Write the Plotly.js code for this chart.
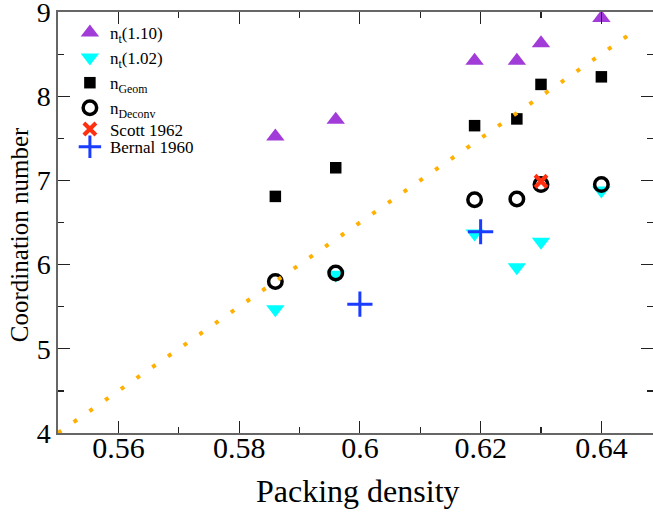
<!DOCTYPE html>
<html>
<head>
<meta charset="utf-8">
<script src="https://cdn.plot.ly/plotly-3.0.1.min.js"></script>
<style>body{margin:0;padding:0;background:#fff}#chart{width:653px;height:512px}</style>
</head>
<body>
<div id="chart"></div>
<script>
// Packing density of each sample
const density = [0.586, 0.596, 0.619, 0.626, 0.630, 0.640];
// Coordination numbers
const nt110 = [7.52, 7.72, 8.42, 8.42, 8.63, 8.93];
const nt102 = [5.47, 5.88, 6.37, 5.97, 6.27, 6.88];
const nGeom = [6.81, 7.15, 7.65, 7.73, 8.14, 8.23];
const nDeconv = [5.80, 5.90, 6.77, 6.78, 6.95, 6.95];
// Literature values
const scottX = [0.630];
const scottY = [6.99];
const bernalX = [0.600, 0.620];
const bernalY = [5.53, 6.39];
// Reference (dotted) line end points
const lineX = [0.550, 0.6462];
const lineY = [4.0, 8.81];

const serif = 'Liberation Serif';

const traces = [
  {x: density, y: nt110, name: 'n<sub>t</sub>(1.10)', mode: 'markers', type: 'scatter',
   marker: {symbol: 'triangle-up', size: 16, color: '#a23cd8'}},
  {x: density, y: nt102, name: 'n<sub>t</sub>(1.02)', mode: 'markers', type: 'scatter',
   marker: {symbol: 'triangle-down', size: 16, color: '#00ffff'}},
  {x: density, y: nGeom, name: 'n<sub>Geom</sub>', mode: 'markers', type: 'scatter',
   marker: {symbol: 'square', size: 11.5, color: '#000000'}},
  {x: density, y: nDeconv, name: 'n<sub>Deconv</sub>', mode: 'markers', type: 'scatter',
   marker: {symbol: 'circle-open', size: 13.5, color: '#000000', line: {width: 3.5, color: '#000000'}}},
  {x: scottX, y: scottY, name: 'Scott 1962', mode: 'markers', type: 'scatter', legend: 'legend2',
   marker: {symbol: 'x-thin-open', size: 12, color: '#ff3010', line: {width: 4, color: '#ff3010'}}},
  {x: bernalX, y: bernalY, name: 'Bernal 1960', mode: 'markers', type: 'scatter', legend: 'legend3',
   marker: {symbol: 'cross-thin-open', size: 18, color: '#1a3cff', line: {width: 3, color: '#1a3cff'}}},
  {x: lineX, y: lineY, mode: 'lines', type: 'scatter', showlegend: false, hoverinfo: 'skip',
   line: {color: '#ffb000', width: 4, dash: '4px,15.16px'}}
];

const axisCommon = {
  showline: true, linecolor: '#666666', linewidth: 1.6, mirror: 'ticks',
  ticks: 'inside', ticklen: 12, tickwidth: 1.2, tickcolor: '#222222',
  showgrid: false, zeroline: false, ticklabeloverflow: 'allow'
};

const legendCommon = {x: 0.02, xanchor: 'left', bgcolor: 'rgba(0,0,0,0)',
  font: {family: serif, size: 17, color: '#000'}, tracegroupgap: 0, itemwidth: 30};

const layout = {
  width: 653, height: 512,
  margin: {l: 58, r: 0, t: 12, b: 79, pad: 0},
  paper_bgcolor: '#ffffff', plot_bgcolor: '#ffffff',
  showlegend: true,
  font: {family: serif},
  legend: Object.assign({}, legendCommon, {y: 0.993, yanchor: 'top'}),
  legend2: Object.assign({}, legendCommon, {y: 0.721, yanchor: 'middle'}),
  legend3: Object.assign({}, legendCommon, {y: 0.679, yanchor: 'middle'}),
  xaxis: Object.assign({}, axisCommon, {
    range: [0.55, 0.64855], tick0: 0.56, dtick: 0.02, ticklabelstandoff: -13,
    tickfont: {family: serif, size: 30, color: '#000'},
    minor: {dtick: 0.01, ticks: 'inside', ticklen: 6, tickcolor: '#222222', tickwidth: 1.2}
  }),
  yaxis: Object.assign({}, axisCommon, {
    range: [4, 9], tick0: 4, dtick: 1,
    tickfont: {family: serif, size: 28, color: '#000'},
    minor: {dtick: 0.5, ticks: 'inside', ticklen: 6, tickcolor: '#222222', tickwidth: 1.2}
  }),
  annotations: [
    {text: 'Packing density', xref: 'paper', yref: 'paper', x: 0.504, y: -0.138,
     xanchor: 'center', yanchor: 'middle', showarrow: false,
     font: {family: serif, size: 32, color: '#000'}},
    {text: 'Coordination number', xref: 'paper', yref: 'paper', x: -0.0655, y: 0.470,
     xanchor: 'center', yanchor: 'middle', showarrow: false, textangle: -90,
     font: {family: serif, size: 25, color: '#000'}}
  ]
};

Plotly.newPlot('chart', traces, layout, {displayModeBar: false, staticPlot: true});
</script>
</body>
</html>
